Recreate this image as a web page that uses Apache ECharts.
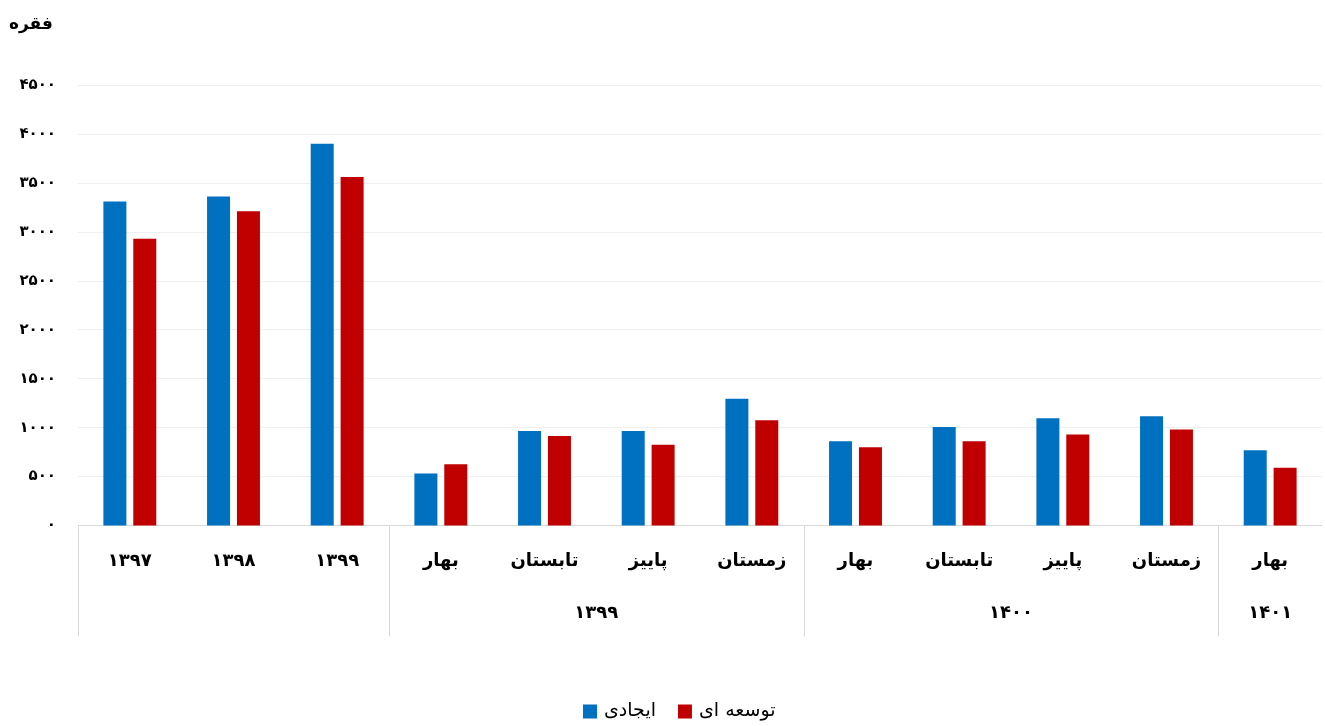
<!DOCTYPE html>
<html>
<head>
<meta charset="utf-8">
<script src="https://cdn.jsdelivr.net/npm/echarts@6/dist/echarts.min.js"></script>
<style>
  html, body { margin: 0; padding: 0; background: #ffffff; }
  #chart { width: 1325px; height: 726px; }
</style>
</head>
<body>
<div id="chart"></div>
<script>
// Categories along the x axis (years, then seasons)
const categories = ['۱۳۹۷', '۱۳۹۸', '۱۳۹۹', 'بهار', 'تابستان', 'پاییز', 'زمستان', 'بهار', 'تابستان', 'پاییز', 'زمستان', 'بهار'];
// Series values
const ijadi = [3310, 3360, 3900, 530, 965, 965, 1295, 860, 1005, 1095, 1115, 770];
const towseei = [2930, 3210, 3560, 625, 915, 825, 1075, 800, 860, 930, 980, 590];
// Year groups beneath the season labels
const groupLabels = ['', '۱۳۹۹', '۱۴۰۰', '۱۴۰۱'];
const groupStart = [0, 3, 7, 11];
const groupEnd = [2, 6, 10, 11];
// Y axis range
const yMin = 0, yMax = 4500, yStep = 500;

const FONT = "'DejaVu Sans', sans-serif";
const GRID_LINE = '#d9d9d9';

function faDigits(n) {
  return String(n).replace(/\d/g, d => '۰۱۲۳۴۵۶۷۸۹'[+d]);
}

const chart = echarts.init(document.getElementById('chart'), null, { renderer: 'canvas' });

chart.setOption({
  animation: false,
  backgroundColor: '#ffffff',
  title: {
    text: 'فقره',
    left: 4, top: 11,
    textStyle: { fontFamily: FONT, fontSize: 17, fontWeight: 'bold', color: '#000' }
  },
  legend: {
    bottom: 0, left: 578,
    itemWidth: 14, itemHeight: 14, itemGap: 22,
    icon: 'rect',
    textStyle: { fontFamily: FONT, fontSize: 19, color: '#000', padding: [0, 0, 0, 2] },
    data: ['ایجادی', 'توسعه ای']
  },
  grid: { left: 78, right: 3, top: 85, bottom: 200.5, containLabel: false },
  xAxis: {
    type: 'category',
    data: categories,
    axisLine: { show: true, lineStyle: { color: GRID_LINE, width: 1 } },
    axisTick: { show: false },
    axisLabel: { margin: 27, fontFamily: FONT, fontSize: 18, fontWeight: 'bold', color: '#000' }
  },
  yAxis: {
    type: 'value',
    min: yMin, max: yMax, interval: yStep,
    axisLine: { show: false },
    axisTick: { show: false },
    splitLine: { lineStyle: { color: '#efefef', width: 1 } },
    axisLabel: {
      margin: 22, fontFamily: FONT, fontSize: 15, fontWeight: 'bold', color: '#000',
      formatter: v => faDigits(v)
    }
  },
  series: [
    { name: 'ایجادی', type: 'bar', data: ijadi, barWidth: 23, barGap: '30%',
      itemStyle: { color: '#0070C0' } },
    { name: 'توسعه ای', type: 'bar', data: towseei, barWidth: 23,
      itemStyle: { color: '#C00000' } }
  ]
});

// Group separators and group labels, positioned from the category scale
function drawGroups() {
  const c0 = chart.convertToPixel({ xAxisIndex: 0 }, 0);
  const c1 = chart.convertToPixel({ xAxisIndex: 0 }, 1);
  const band = c1 - c0;
  const yBase = chart.convertToPixel({ yAxisIndex: 0 }, 0);
  const elements = [];
  groupStart.forEach((s, i) => {
    const xl = Math.round(chart.convertToPixel({ xAxisIndex: 0 }, s) - band / 2) + 0.5;
    elements.push({
      type: 'line', silent: true,
      shape: { x1: xl, y1: yBase, x2: xl, y2: yBase + 111 },
      style: { stroke: GRID_LINE, lineWidth: 1 }
    });
    if (groupLabels[i]) {
      const xs = chart.convertToPixel({ xAxisIndex: 0 }, s);
      const xe = chart.convertToPixel({ xAxisIndex: 0 }, groupEnd[i]);
      elements.push({
        type: 'text', silent: true,
        x: (xs + xe) / 2, y: yBase + 88,
        style: { text: groupLabels[i], fontFamily: FONT, fontSize: 18, fontWeight: 'bold', fill: '#000',
                 align: 'center', verticalAlign: 'middle' }
      });
    }
  });
  chart.setOption({ graphic: { elements } });
}
drawGroups();
</script>
</body>
</html>
